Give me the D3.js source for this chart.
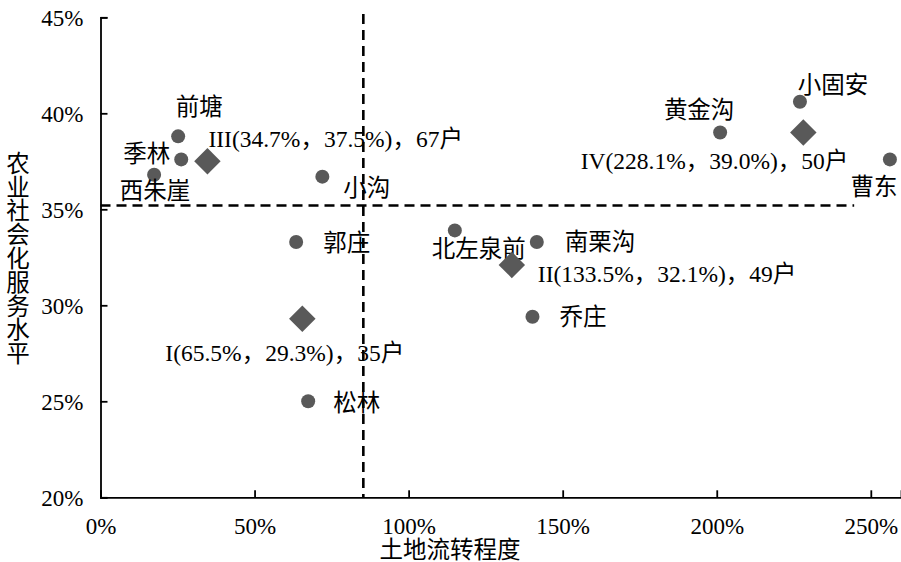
<!DOCTYPE html>
<html><head><meta charset="utf-8">
<script src="https://cdn.jsdelivr.net/npm/d3@7"></script>
<style>body{margin:0;background:#fff}svg{display:block}text{font-family:"Liberation Serif","Times New Roman","Noto Sans CJK SC",serif;fill:#000}</style>
</head><body><svg id="c" width="901" height="562"></svg>
<script>
// Villages
const villages = ["前塘","季林","西朱崖","小沟","郭庄","松林","北左泉前","南栗沟","乔庄","黄金沟","小固安","曹东"];
const landTransfer = [25.2, 26.2, 17.4, 72.0, 63.5, 67.4, 115.0, 141.6, 140.2, 201.1, 227.0, 256.2];
const serviceLevel = [38.8, 37.6, 36.8, 36.7, 33.3, 25.0, 33.9, 33.3, 29.4, 39.0, 40.6, 37.6];
// Group centroids
const groups = ["I","II","III","IV"];
const groupX = [65.5, 133.5, 34.7, 228.1];
const groupY = [29.3, 32.1, 37.5, 39.0];
const groupHouseholds = [35, 49, 67, 50];
// Axes
const xTicks = [0, 50, 100, 150, 200, 250];
const yTicks = [20, 25, 30, 35, 40, 45];
const xThreshold = 85.3, yThreshold = 35.2;
const xTitle = "土地流转程度", yTitle = "农业社会化服务水平";

// layout: label offsets (px) relative to marker
const villageLabelPos = [[21,-30,"middle"],[-11,-6,"end"],[1,16,"middle"],[21,11,"start"],[27,1,"start"],[25,1,"start"],[24,18,"middle"],[28,0,"start"],[27,0,"start"],[-21,-23,"middle"],[33,-17,"middle"],[-16,27,"middle"]];
const groupLabelPos = [[-137,34,"start"],[26,9,"start"],[1,-23,"start"],[45,28,"end"]];

const svg = d3.select("#c");
const x = d3.scaleLinear().domain([0, 259.8]).range([100.5, 901]);
const y = d3.scaleLinear().domain([20, 45]).range([497.3, 17.3]);
const col = "#595959";
const fs = 23.5;

// dashed threshold lines
svg.append("line").attr("x1", x(0)).attr("x2", x(244.6)).attr("y1", y(yThreshold)).attr("y2", y(yThreshold))
  .attr("stroke","#000").attr("stroke-width",2.6).attr("stroke-dasharray","10,6");
svg.append("line").attr("x1", x(xThreshold)).attr("x2", x(xThreshold)).attr("y1", 14).attr("y2", y(20))
  .attr("stroke","#000").attr("stroke-width",2.6).attr("stroke-dasharray","10,6");

// axes
const xAxis = svg.append("g").attr("transform",`translate(0,${y(20)})`)
  .call(d3.axisBottom(x).tickValues(xTicks).tickSize(-7).tickPadding(0).tickFormat(d=>d+"%"));
const yAxis = svg.append("g").attr("transform",`translate(${x(0)},0)`)
  .call(d3.axisLeft(y).tickValues(yTicks).tickSize(-7).tickPadding(0).tickFormat(d=>d+"%"));
[xAxis,yAxis].forEach(g=>{
  g.attr("font-family",null).attr("font-size",null);
  g.select(".domain").attr("stroke","#000").attr("stroke-width",1.8);
  g.selectAll(".tick line").attr("stroke","#000").attr("stroke-width",1.8);
  g.selectAll(".tick text").attr("font-size",23).attr("fill","#000");
});
xAxis.selectAll(".tick text").attr("y",20).attr("dy","0.71em");
yAxis.selectAll(".tick text").attr("x",-17).attr("dy","0.35em");

// axis titles
svg.append("text").attr("x", 450).attr("y", 558).attr("text-anchor","middle").attr("font-size",fs).text(xTitle);
const yt = svg.append("text").attr("x",18).attr("y",153).attr("text-anchor","middle").attr("font-size",fs);
yTitle.split("").forEach((ch,i)=>yt.append("tspan").attr("x",18).attr("y",153+i*23.8).attr("dy","0.8em").text(ch));

// village points
svg.selectAll("circle.v").data(villages).join("circle").attr("class","v")
  .attr("cx",(d,i)=>x(landTransfer[i])).attr("cy",(d,i)=>y(serviceLevel[i])).attr("r",7).attr("fill",col);
svg.selectAll("text.v").data(villages).join("text").attr("class","v")
  .attr("x",(d,i)=>x(landTransfer[i])+villageLabelPos[i][0])
  .attr("y",(d,i)=>y(serviceLevel[i])+villageLabelPos[i][1])
  .attr("dy","0.35em").attr("text-anchor",(d,i)=>villageLabelPos[i][2]).attr("font-size",fs).text(d=>d);

// group diamonds
const dsym = d3.symbol().type(d3.symbolSquare).size(350);
svg.selectAll("path.g").data(groups).join("path").attr("class","g")
  .attr("d",dsym).attr("fill",col)
  .attr("transform",(d,i)=>`translate(${x(groupX[i])},${y(groupY[i])}) rotate(45)`);
svg.selectAll("text.g").data(groups).join("text").attr("class","g")
  .attr("x",(d,i)=>x(groupX[i])+groupLabelPos[i][0])
  .attr("y",(d,i)=>y(groupY[i])+groupLabelPos[i][1])
  .attr("dy","0.35em").attr("text-anchor",(d,i)=>groupLabelPos[i][2]).attr("font-size",fs)
  .text((d,i)=>`${d}(${groupX[i].toFixed(1)}%，${groupY[i].toFixed(1)}%)，${groupHouseholds[i]}户`);
</script></body></html>
